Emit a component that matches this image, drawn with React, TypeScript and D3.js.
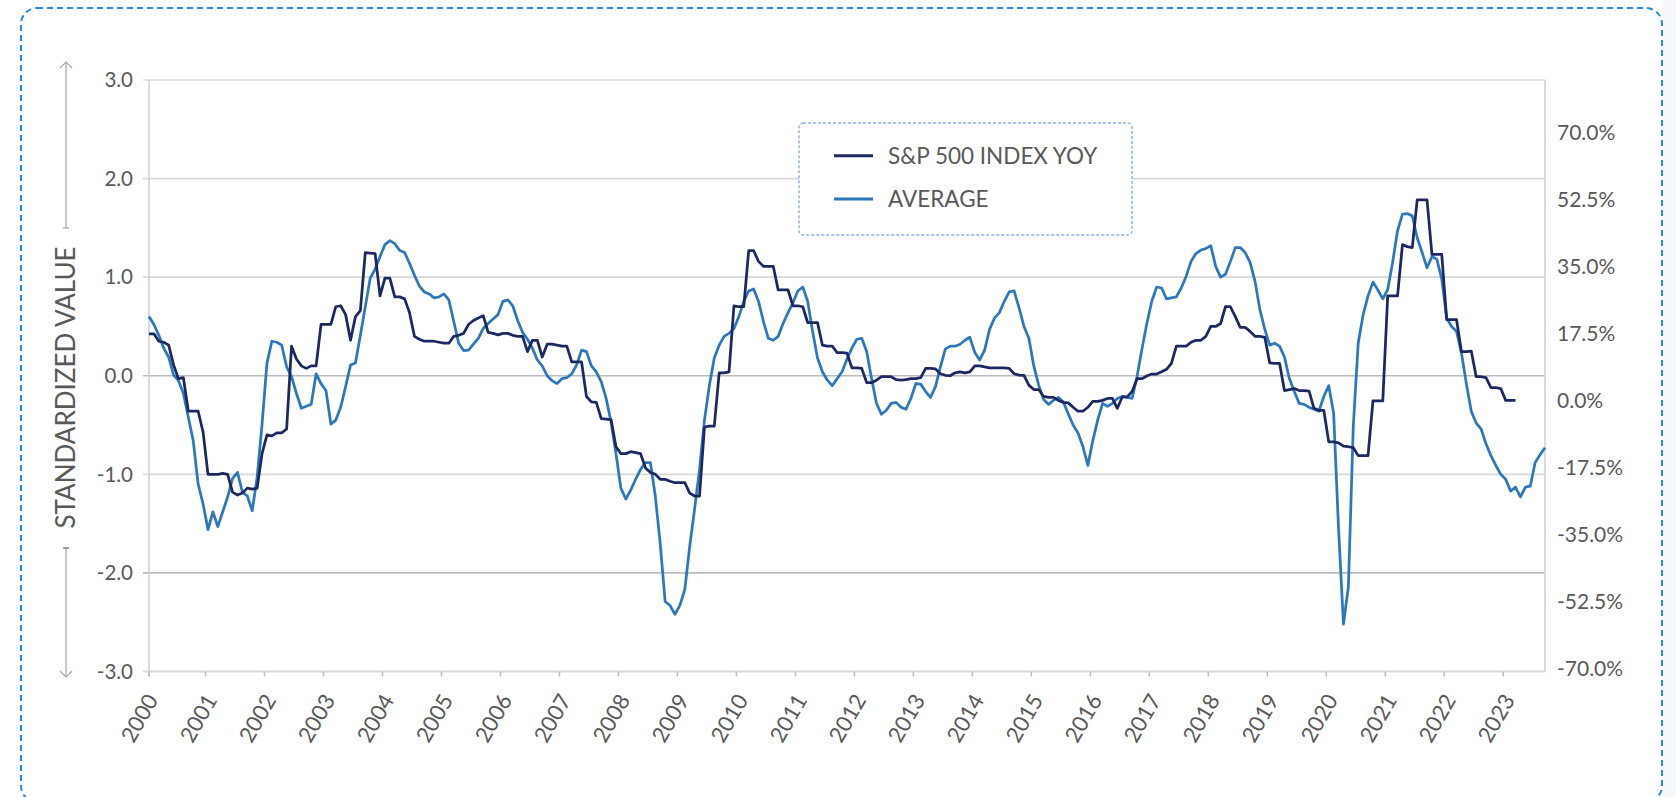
import React from 'react';
import * as d3 from 'd3';

// monthly points, Jan 2000 onwards
const yearLabels = ['2000', '2001', '2002', '2003', '2004', '2005', '2006', '2007', '2008', '2009', '2010', '2011',
  '2012', '2013', '2014', '2015', '2016', '2017', '2018', '2019', '2020', '2021', '2022', '2023'];

const leftTicks = [3, 2, 1, 0, -1, -2, -3];
const rightTicks = [70, 52.5, 35, 17.5, 0, -17.5, -35, -52.5, -70];

const seriesNames = ['S&P 500 INDEX YOY', 'AVERAGE'];

// S&P 500 YoY, standardized (ends Mar 2023)
const spx = [
  0.425, 0.425, 0.35, 0.34, 0.31, 0.11, -0.03, -0.02, -0.36, -0.36, -0.36, -0.57,
  -1.0, -1.0, -1.0, -0.99, -1.0, -1.18, -1.21, -1.19, -1.14, -1.15, -1.14, -0.79,
  -0.6, -0.61, -0.58, -0.58, -0.54, 0.3, 0.17, 0.1, 0.075, 0.1, 0.1, 0.52,
  0.52, 0.52, 0.7, 0.71, 0.62, 0.36, 0.6, 0.66, 1.25, 1.245, 1.24, 0.81,
  0.99, 0.99, 0.8, 0.8, 0.78, 0.64, 0.4, 0.37, 0.35, 0.35, 0.35, 0.34,
  0.33, 0.33, 0.4, 0.41, 0.43, 0.52, 0.56, 0.585, 0.61, 0.44, 0.43, 0.415,
  0.43, 0.43, 0.41, 0.4, 0.4, 0.245, 0.36, 0.36, 0.19, 0.32, 0.32, 0.31,
  0.3, 0.3, 0.14, 0.14, 0.14, -0.21, -0.265, -0.27, -0.435, -0.44, -0.445, -0.72,
  -0.79, -0.79, -0.77, -0.78, -0.79, -0.935, -0.98, -1.0, -1.05, -1.05, -1.07, -1.085,
  -1.085, -1.085, -1.19, -1.22, -1.22, -0.52, -0.51, -0.51, 0.03, 0.03, 0.04, 0.71,
  0.7, 0.7, 1.27, 1.27, 1.16, 1.11, 1.11, 1.11, 0.87, 0.87, 0.87, 0.71,
  0.71, 0.7, 0.54, 0.54, 0.54, 0.31, 0.3, 0.3, 0.235, 0.235, 0.23, 0.08,
  0.08, 0.075, -0.07, -0.07, -0.045, -0.01, -0.01, -0.01, -0.04, -0.045, -0.04, -0.03,
  -0.03, -0.02, 0.075, 0.075, 0.07, 0.02, 0.005, 0.0, 0.03, 0.04, 0.03, 0.04,
  0.1, 0.1, 0.09, 0.08, 0.08, 0.08, 0.08, 0.075, 0.02, 0.007, 0.003, -0.095,
  -0.14, -0.14, -0.21, -0.22, -0.22, -0.25, -0.27, -0.275, -0.32, -0.36, -0.36, -0.32,
  -0.26, -0.26, -0.25, -0.23, -0.23, -0.33, -0.215, -0.215, -0.16, -0.03, -0.03, -0.003,
  0.017, 0.017, 0.04, 0.065, 0.125, 0.3, 0.3, 0.3, 0.34, 0.36, 0.36, 0.4,
  0.5, 0.5, 0.53, 0.7, 0.7, 0.6, 0.49, 0.49, 0.45, 0.4, 0.4, 0.39,
  0.13, 0.125, 0.125, -0.15, -0.14, -0.13, -0.15, -0.15, -0.155, -0.33, -0.35, -0.35,
  -0.67, -0.67, -0.68, -0.715, -0.72, -0.73, -0.81, -0.81, -0.81, -0.255, -0.255, -0.255,
  0.81, 0.81, 0.81, 1.33, 1.31, 1.3, 1.785, 1.785, 1.785, 1.23, 1.23, 1.23,
  0.57, 0.57, 0.57, 0.245, 0.245, 0.25, -0.01, -0.01, -0.02, -0.12, -0.12, -0.13,
  -0.25, -0.25, -0.25,
];

// average of indicators (ends Sep 2023)
const avg = [
  0.6, 0.52, 0.41, 0.28, 0.19, 0.01, -0.05, -0.18, -0.42, -0.66, -1.1, -1.3,
  -1.56, -1.38, -1.53, -1.38, -1.23, -1.04, -0.98, -1.18, -1.22, -1.37, -1.03, -0.49,
  0.13, 0.35, 0.34, 0.31, 0.09, -0.01, -0.18, -0.33, -0.31, -0.29, 0.02, -0.08,
  -0.15, -0.49, -0.45, -0.32, -0.11, 0.11, 0.13, 0.41, 0.7, 0.99, 1.08, 1.21,
  1.33, 1.37, 1.34, 1.27, 1.25, 1.14, 1.02, 0.91, 0.85, 0.83, 0.79, 0.8,
  0.83, 0.77, 0.55, 0.33, 0.255, 0.26, 0.32, 0.38, 0.48, 0.53, 0.575, 0.62,
  0.755, 0.77, 0.71, 0.56, 0.44, 0.37, 0.28, 0.16, 0.1, 0.0, -0.05, -0.08,
  -0.03, -0.02, 0.02, 0.11, 0.26, 0.245, 0.1, 0.04, -0.06, -0.23, -0.47, -0.79,
  -1.14, -1.25, -1.16, -1.05, -0.95, -0.88, -0.88, -1.22, -1.7, -2.29, -2.33, -2.42,
  -2.33, -2.17, -1.73, -1.35, -0.95, -0.45, -0.1, 0.18, 0.31, 0.4, 0.43, 0.48,
  0.6, 0.755, 0.86, 0.88, 0.755, 0.55, 0.38, 0.36, 0.4, 0.53, 0.64, 0.74,
  0.86, 0.9, 0.755, 0.45, 0.18, 0.04, -0.045, -0.1, -0.03, 0.04, 0.17, 0.28,
  0.37, 0.38, 0.245, -0.03, -0.28, -0.39, -0.35, -0.28, -0.27, -0.32, -0.34, -0.23,
  -0.08, -0.085, -0.16, -0.22, -0.11, 0.09, 0.27, 0.3, 0.3, 0.32, 0.36, 0.39,
  0.235, 0.16, 0.26, 0.47, 0.585, 0.64, 0.755, 0.85, 0.86, 0.69, 0.5, 0.38,
  0.1, -0.095, -0.24, -0.29, -0.25, -0.22, -0.265, -0.385, -0.5, -0.58, -0.72, -0.91,
  -0.66, -0.45, -0.28, -0.31, -0.28, -0.23, -0.21, -0.22, -0.23, -0.01, 0.27, 0.53,
  0.755, 0.9, 0.89, 0.78, 0.79, 0.8, 0.89, 1.01, 1.16, 1.24, 1.275, 1.29,
  1.32, 1.11, 1.0, 1.03, 1.16, 1.3, 1.3, 1.25, 1.15, 0.96, 0.67, 0.47,
  0.31, 0.33, 0.3, 0.19, -0.03, -0.16, -0.28, -0.29, -0.32, -0.34, -0.36, -0.21,
  -0.1, -0.38, -1.55, -2.52, -2.14, -0.51, 0.33, 0.62, 0.81, 0.95, 0.87, 0.78,
  0.875, 1.15, 1.47, 1.64, 1.645, 1.62, 1.4, 1.25, 1.095, 1.21, 1.18, 0.98,
  0.585, 0.5, 0.45, 0.23, -0.08, -0.36, -0.48, -0.54, -0.69, -0.81, -0.91, -1.0,
  -1.05, -1.17, -1.13, -1.23, -1.13, -1.12, -0.88, -0.8, -0.73,
];

const W = 1676, H = 797;
const plot = { left: 149, right: 1545, top: 80, bottom: 671.5 };
const FONT = 'Lato, "Open Sans", sans-serif';
const GREY_TEXT = '#595959';
const NAVY = '#1d2862';
const BLUE = '#2f77bd';

export default function App() {
  const x = d3.scaleLinear().domain([0, avg.length - 1]).range([plot.left, plot.right]);
  const y = d3.scaleLinear().domain([-3, 3]).range([plot.bottom, plot.top]);
  const yRight = d3.scaleLinear().domain([-70, 70]).range([668.7, 132.7]);

  const line = d3.line<number>()
    .x((_, i) => x(i))
    .y(d => y(d));

  const tickX = (k: number) => x(Math.max(0, k * 12 - 0.5));

  return (
    <svg width={W} height={H} style={{ position: 'absolute', left: 0, top: 0, background: '#fff' }}
      fontFamily={FONT}>
      <rect x={1663} y={0} width={W - 1663} height={H} fill="#f6f8fb" />
      <rect x={21} y={8} width={1641} height={794} rx={16} fill="#fff"
        stroke="#2b8ad8" strokeWidth={2} strokeDasharray="6 4" />

      {/* grid */}
      {leftTicks.map(t => (
        <line key={t} x1={143} x2={plot.right} y1={y(t)} y2={y(t)}
          stroke={t === 0 || t === -2 ? '#bdbdbd' : '#d9d9d9'} strokeWidth={t === -3 ? 2 : 1.6} />
      ))}
      <line x1={plot.left} x2={plot.left} y1={plot.top} y2={plot.bottom + 5} stroke="#cfcfcf" strokeWidth={1.5} />
      <line x1={plot.right} x2={plot.right} y1={plot.top} y2={plot.bottom} stroke="#cfcfcf" strokeWidth={1.5} />

      {/* x ticks + labels */}
      {yearLabels.map((lab, k) => (
        <g key={lab}>
          <line x1={tickX(k)} x2={tickX(k)} y1={plot.bottom} y2={plot.bottom + 5} stroke="#bdbdbd" strokeWidth={1.5} />
          <text transform={`translate(${x(k * 12) + 10},700) rotate(-60)`} textAnchor="end"
            fontSize={22} fill={GREY_TEXT}>{lab}</text>
        </g>
      ))}

      {/* left labels */}
      {leftTicks.map(t => (
        <text key={t} x={133} y={y(t)} dy="0.35em" textAnchor="end" fontSize={20.5} fill={GREY_TEXT}>
          {t.toFixed(1)}
        </text>
      ))}
      {/* right labels */}
      {rightTicks.map(t => (
        <text key={t} x={1557} y={yRight(t)} dy="0.35em" fontSize={21} fill={GREY_TEXT}>
          {t.toFixed(1) + '%'}
        </text>
      ))}

      {/* axis title with arrows */}
      <g stroke="#a6a6a6" strokeWidth={1.2} fill="none">
        <line x1={66} x2={66} y1={62} y2={228} />
        <polyline points="60,68 66,62 72,68" />
        <line x1={63} x2={69} y1={228} y2={228} />
        <line x1={66} x2={66} y1={548} y2={677} />
        <polyline points="60,671 66,677 72,671" />
        <line x1={63} x2={69} y1={548} y2={548} stroke="#666" />
      </g>
      <text transform="translate(75,387.5) rotate(-90)" textAnchor="middle" fontSize={26} fill={GREY_TEXT}>
        STANDARDIZED VALUE
      </text>

      {/* series */}
      <path d={line(avg) ?? ''} fill="none" stroke={BLUE} strokeWidth={2.75} strokeLinejoin="round" />
      <path d={line(spx) ?? ''} fill="none" stroke={NAVY} strokeWidth={2.75} strokeLinejoin="round" />

      {/* legend */}
      <rect x={799} y={123} width={333} height={112} rx={4} fill="#fff"
        stroke="#4f8fd0" strokeWidth={1} strokeDasharray="3 2" />
      {seriesNames.map((name, i) => (
        <g key={name} transform={`translate(834,${155.7 + i * 43.3})`}>
          <line x1={0} x2={39} stroke={i === 0 ? NAVY : BLUE} strokeWidth={3} />
          <text x={54} dy="0.35em" fontSize={22.5} fill={GREY_TEXT}>{name}</text>
        </g>
      ))}
    </svg>
  );
}
